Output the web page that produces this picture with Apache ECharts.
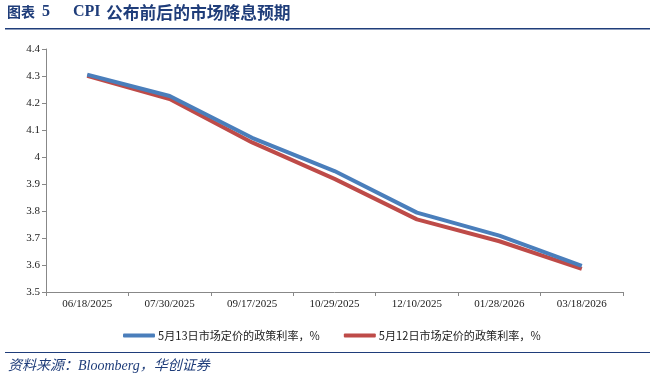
<!DOCTYPE html>
<html><head><meta charset="utf-8">
<script src="https://cdn.jsdelivr.net/npm/echarts@6/dist/echarts.min.js"></script>
<style>html,body{margin:0;padding:0;background:#fff;}#c{width:663px;height:380px;}</style>
</head><body><div id="c"></div>
<script>
const categories = ['06/18/2025','07/30/2025','09/17/2025','10/29/2025','12/10/2025','01/28/2026','03/18/2026'];
const may13 = [4.305, 4.226, 4.071, 3.948, 3.794, 3.709, 3.597];
const may12 = [4.301, 4.215, 4.054, 3.919, 3.769, 3.688, 3.586];
const seriesNames = ['5月13日市场定价的政策利率，%', '5月12日市场定价的政策利率，%'];
const titleLabel = '图表';
const titleNum = '5';
const titleLatin = 'CPI';
const titleCJK = '公布前后的市场降息预期';
const sourceText = '资料来源：Bloomberg，华创证券';

const chart = echarts.init(document.getElementById('c'));
const navy = '#1F3D7A';
const tFont = 'bold 16px "Liberation Serif", "Noto Sans CJK SC"';
chart.setOption({
  animation: false,
  backgroundColor: '#fff',
  grid: { left: 46, right: 40, top: 49, bottom: 88 },
  xAxis: {
    type: 'category', data: categories, boundaryGap: true,
    axisLine: { lineStyle: { color: '#888', width: 1 } },
    axisTick: { show: true, lineStyle: { color: '#888' }, length: 4 },
    axisLabel: { color: '#222', fontFamily: 'Liberation Serif', fontSize: 11, margin: 7 }
  },
  yAxis: {
    type: 'value', min: 3.5, max: 4.4, interval: 0.1,
    splitLine: { show: false },
    axisLine: { show: true, lineStyle: { color: '#888', width: 1 } },
    axisTick: { show: true, lineStyle: { color: '#888' }, length: 4 },
    axisLabel: { color: '#222', fontFamily: 'Liberation Serif', fontSize: 11, margin: 6,
      formatter: v => (Math.round(v * 10) / 10).toString() }
  },
  legend: {
    left: 118, top: 325, itemWidth: 32, itemHeight: 4, itemGap: 24, icon: 'roundRect',
    textStyle: { color: '#222', fontFamily: 'Noto Sans CJK SC', fontSize: 11.1, padding: [0, 0, 0, -2] },
    data: seriesNames
  },
  series: [
    { name: seriesNames[0], type: 'line', data: may13, symbol: 'none', z: 3,
      lineStyle: { color: '#4A7EBB', width: 4 }, itemStyle: { color: '#4A7EBB' } },
    { name: seriesNames[1], type: 'line', data: may12, symbol: 'none', z: 2,
      lineStyle: { color: '#BE4B48', width: 4 }, itemStyle: { color: '#BE4B48' } }
  ],
  graphic: [
    { type: 'text', left: 7, top: 5, style: { text: titleLabel, fill: navy,
      font: 'bold 14px "Noto Sans CJK SC"' } },
    { type: 'text', left: 42, top: 4, style: { text: titleNum, fill: navy, font: tFont } },
    { type: 'text', left: 73, top: 4, style: { text: titleLatin, fill: navy, font: tFont } },
    { type: 'text', left: 106, top: 4, style: { text: titleCJK, fill: navy,
      font: 'bold 16.8px "Noto Sans CJK SC"' } },
    { type: 'rect', shape: { x: 5, y: 28, width: 645, height: 1.5 }, style: { fill: navy } },
    { type: 'rect', shape: { x: 5, y: 352, width: 645, height: 1 }, style: { fill: navy } },
    { type: 'text', left: 8, top: 359, style: { text: sourceText, fill: navy,
      font: 'italic 14px "Liberation Serif", "Noto Sans CJK SC"' } }
  ]
});
</script></body></html>
